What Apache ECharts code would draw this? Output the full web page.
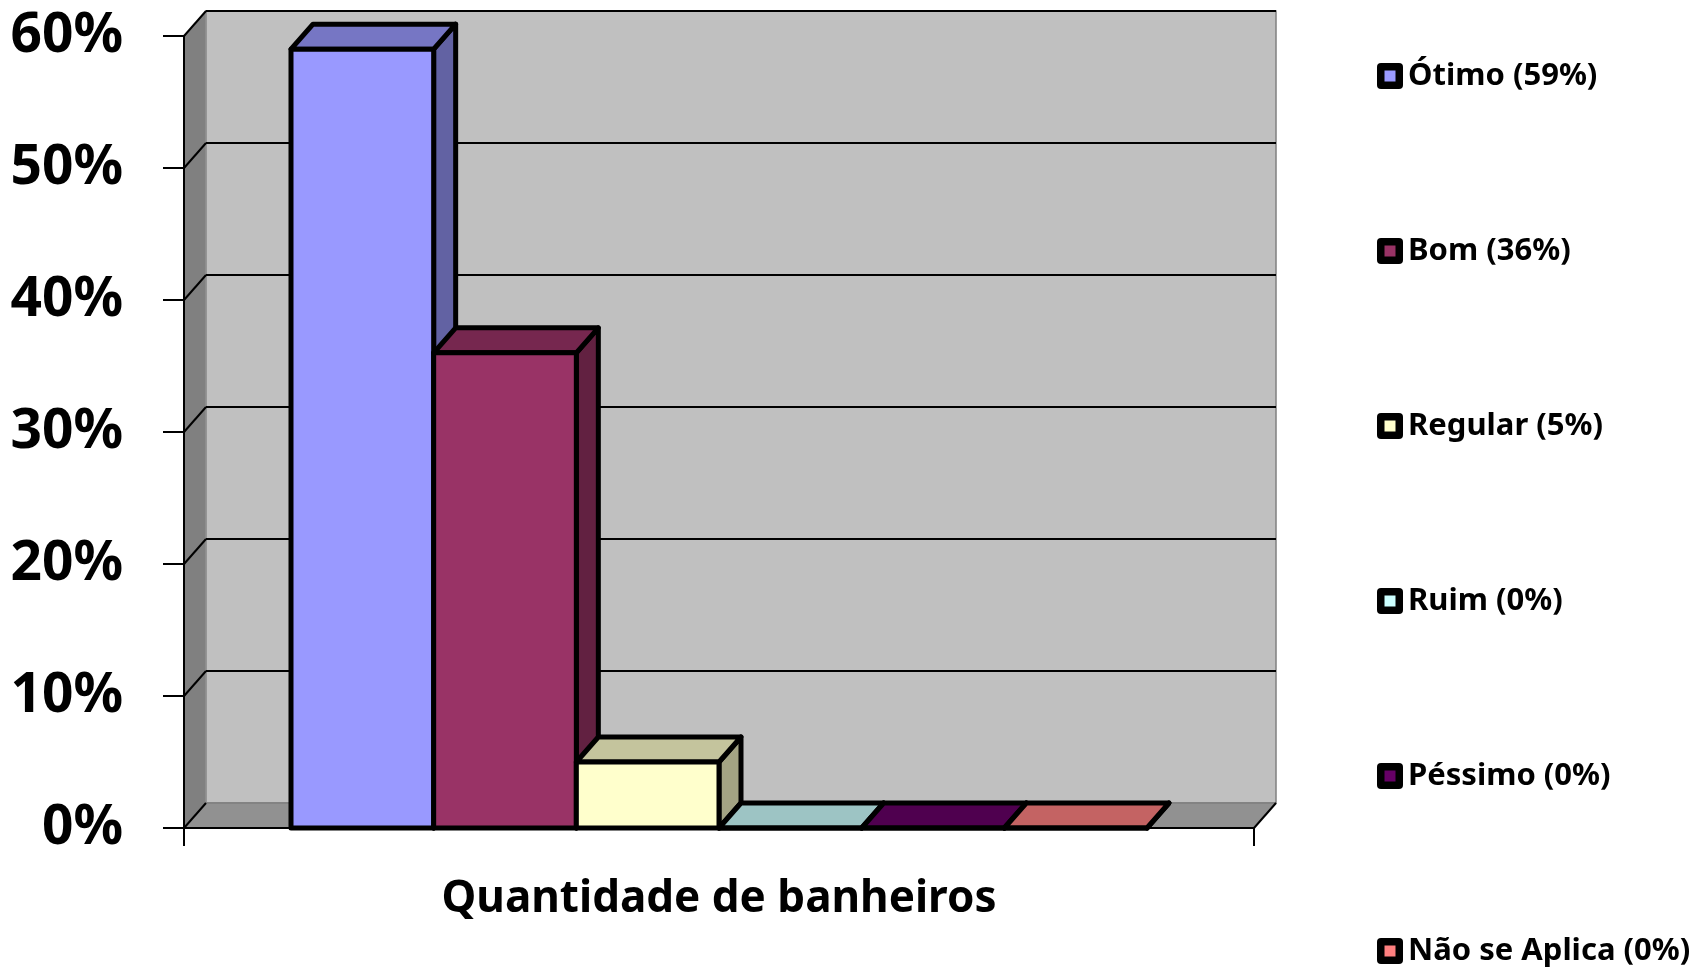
<!DOCTYPE html>
<html>
<head>
<meta charset="utf-8">
<title>Quantidade de banheiros</title>
<script src="https://cdn.jsdelivr.net/npm/echarts@6/dist/echarts.min.js"></script>
<style>
  html, body { margin: 0; padding: 0; background: #fff; }
  #chart { width: 1696px; height: 968px; }
</style>
</head>
<body>
<div id="chart"></div>
<script>
// dados
var categorias = ['Quantidade de banheiros'];
var respostas = ['Ótimo', 'Bom', 'Regular', 'Ruim', 'Péssimo', 'Não se Aplica'];
var percentuais = [59, 36, 5, 0, 0, 0];
var ticksY = [0, 10, 20, 30, 40, 50, 60];

var cores = ['#9999FF', '#993366', '#FFFFCC', '#CCFFFF', '#660066', '#FF8080'];
var DX = 22, DY = -25;   // deslocamento da profundidade (efeito 3d)
var FONTE = '"Noto Sans", "DejaVu Sans", sans-serif';

function escurece(hex, f) {
  var n = parseInt(hex.slice(1), 16);
  var r = Math.round(((n >> 16) & 255) * f);
  var g = Math.round(((n >> 8) & 255) * f);
  var b = Math.round((n & 255) * f);
  return 'rgb(' + r + ',' + g + ',' + b + ')';
}

// marcador da legenda: quadrado preto arredondado com miolo colorido
function iconeLegenda(cor) {
  var c = document.createElement('canvas');
  c.width = 26; c.height = 26;
  var ctx = c.getContext('2d');
  ctx.fillStyle = '#000';
  ctx.beginPath();
  if (ctx.roundRect) ctx.roundRect(0, 0, 26, 26, 4); else ctx.rect(0, 0, 26, 26);
  ctx.fill();
  ctx.fillStyle = cor;
  ctx.fillRect(7.5, 7.5, 11, 11);
  return 'image://' + c.toDataURL();
}

// paredes, piso e linhas de grade em perspectiva
function desenhaParedes(params, api) {
  var base = api.coord([0, 0]);
  var topo = api.coord([0, ticksY[ticksY.length - 1]]);
  var bw = api.size([1, 0])[0];
  var x0 = base[0] - bw / 2, x1 = base[0] + bw / 2;
  var y0 = base[1], y1 = topo[1];
  var filhos = [
    { type: 'rect', shape: { x: x0 + DX, y: y1 + DY, width: x1 - x0, height: y0 - y1 },
      style: { fill: '#C0C0C0', stroke: '#808080', lineWidth: 1.5 } },
    { type: 'polygon', shape: { points: [[x0, y1], [x0 + DX, y1 + DY], [x0 + DX, y0 + DY], [x0, y0]] },
      style: { fill: '#808080', stroke: '#9a9a9a', lineWidth: 1 } },
    { type: 'polygon', shape: { points: [[x0, y0], [x1, y0], [x1 + DX, y0 + DY], [x0 + DX, y0 + DY]] },
      style: { fill: '#919191', stroke: '#777', lineWidth: 1 } },
    { type: 'line', shape: { x1: x1, y1: y0, x2: x1 + DX, y2: y0 + DY },
      style: { stroke: '#000', lineWidth: 2 } }
  ];
  ticksY.forEach(function (t) {
    var y = api.coord([0, t])[1];
    if (t > 0) {
      filhos.push({ type: 'line', shape: { x1: x0 + DX, y1: y + DY, x2: x1 + DX, y2: y + DY },
        style: { stroke: '#000', lineWidth: 2 } });
    }
    filhos.push({ type: 'line', shape: { x1: x0, y1: y, x2: x0 + DX, y2: y + DY },
      style: { stroke: '#000', lineWidth: 2 } });
  });
  return { type: 'group', children: filhos };
}

function barra3d(i) {
  return function (params, api) {
    var v = api.value(1);
    var base = api.coord([api.value(0), 0]);
    var topo = api.coord([api.value(0), v]);
    var bw = api.size([1, 0])[0];
    var w = bw * 0.8 / respostas.length;
    var xl = base[0] - bw * 0.4 + i * w, xr = xl + w;
    var yb = base[1], yt = topo[1];
    function estilo(cor) {
      return { fill: cor, stroke: '#000', lineWidth: 5, lineJoin: 'round' };
    }
    return {
      type: 'group',
      children: [
        { type: 'polygon', shape: { points: [[xr, yt], [xr + DX, yt + DY], [xr + DX, yb + DY], [xr, yb]] },
          style: estilo(escurece(cores[i], 0.64)) },
        { type: 'polygon', shape: { points: [[xl, yt], [xr, yt], [xr + DX, yt + DY], [xl + DX, yt + DY]] },
          style: estilo(escurece(cores[i], 0.77)) },
        { type: 'rect', shape: { x: xl, y: yt, width: w, height: yb - yt },
          style: estilo(cores[i]) }
      ]
    };
  };
}

var nomes = respostas.map(function (r, i) { return r + ' (' + percentuais[i] + '%)'; });

var series = [{
  name: 'paredes',
  type: 'custom',
  silent: true,
  clip: false,
  z: 1,
  renderItem: desenhaParedes,
  data: [[0, 0]]
}];
respostas.forEach(function (r, i) {
  series.push({
    name: nomes[i],
    type: 'custom',
    clip: false,
    z: 2,
    color: cores[i],
    itemStyle: { color: cores[i] },
    renderItem: barra3d(i),
    encode: { x: 0, y: 1 },
    data: [[0, percentuais[i]]]
  });
});

var legendas = nomes.map(function (n, i) {
  return {
    data: [{ name: n, icon: iconeLegenda(cores[i]) }],
    orient: 'vertical',
    left: 1377,
    top: 76 + i * 175 - 17,
    padding: 0,
    selectedMode: false,
    itemWidth: 26,
    itemHeight: 26,
    textStyle: { fontSize: 31, fontWeight: 'bold', color: '#000', fontFamily: FONTE, lineHeight: 34 }
  };
});

var chart = echarts.init(document.getElementById('chart'));
var option = {
  animation: false,
  backgroundColor: '#fff',
  grid: { left: 184, right: 442, top: 36, bottom: 140 },
  legend: legendas,
  xAxis: {
    type: 'category',
    data: categorias,
    z: 10,
    axisLine: { show: true, lineStyle: { color: '#000', width: 2 } },
    axisTick: { show: true, length: 18, lineStyle: { color: '#000', width: 2 } },
    axisLabel: { margin: 49, fontSize: 44, fontWeight: 'bold', color: '#000', fontFamily: FONTE },
    splitLine: { show: false }
  },
  yAxis: {
    type: 'value',
    min: 0,
    max: 60,
    interval: 10,
    z: 10,
    axisLine: { show: true, lineStyle: { color: '#000', width: 2 } },
    axisTick: { show: true, length: 21, lineStyle: { color: '#000', width: 2 } },
    axisLabel: { margin: 61, fontSize: 55, fontWeight: 'bold', color: '#000', fontFamily: FONTE,
      padding: [14, 0, 0, 0], formatter: '{value}%' },
    splitLine: { show: false }
  },
  series: series
};
chart.setOption(option);
</script>
</body>
</html>
